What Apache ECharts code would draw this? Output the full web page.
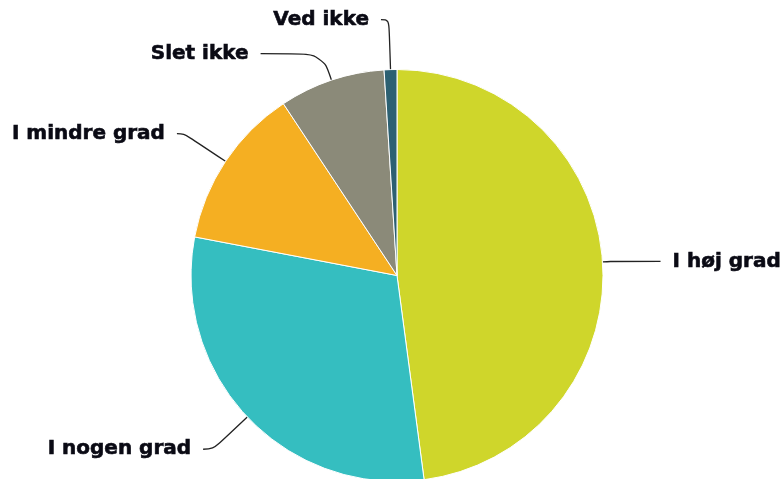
<!DOCTYPE html>
<html>
<head>
<meta charset="utf-8">
<style>
  html, body { margin: 0; padding: 0; background: #ffffff; }
  #chart { width: 784px; height: 479px; }
</style>
<script src="https://cdn.jsdelivr.net/npm/echarts@6/dist/echarts.min.js"></script>
</head>
<body>
<div id="chart"></div>
<script>
// Answer categories and their shares (percent)
const categories = ['I høj grad', 'I nogen grad', 'I mindre grad', 'Slet ikke', 'Ved ikke'];
const shares = [47.9, 30.1, 12.7, 8.3, 1.0];
const sliceColors = ['#CFD62B', '#35BEC0', '#F5AF22', '#8B8A79', '#2C6072'];

// Connector lengths per slice: radial part, then horizontal part
const connectorRadial = [8, 47, 50, 28, 50];
const connectorHorizontal = [50, 10, 7, 62, 8];

const chart = echarts.init(document.getElementById('chart'), null, { renderer: 'canvas' });

const pieData = categories.map((name, i) => ({
  name: name,
  value: shares[i],
  itemStyle: { color: sliceColors[i] },
  labelLine: { length: connectorRadial[i], length2: connectorHorizontal[i] }
}));
// lift the right-hand label a little above its connector
pieData[0].label = { padding: [0, 0, 8, 0] };

chart.setOption({
  animation: false,
  backgroundColor: '#ffffff',
  series: [{
    type: 'pie',
    center: [397, 275.5],
    radius: 206,
    startAngle: 90,
    clockwise: true,
    avoidLabelOverlap: false,
    itemStyle: { borderColor: '#ffffff', borderWidth: 1 },
    label: {
      show: true,
      position: 'outside',
      formatter: '{b}',
      fontFamily: 'DejaVu Sans',
      fontWeight: 'bold',
      fontSize: 20,
      color: '#0a0a14',
      textBorderColor: '#0a0a14',
      textBorderWidth: 0.6,
      distanceToLabelLine: 12,
      bleedMargin: 0,
      width: 175,
      overflow: 'none'
    },
    labelLine: {
      show: true,
      smooth: 0.4,
      lineStyle: { color: '#222222', width: 1.3 }
    },
    emphasis: { disabled: true },
    data: pieData
  }]
});
</script>
</body>
</html>
